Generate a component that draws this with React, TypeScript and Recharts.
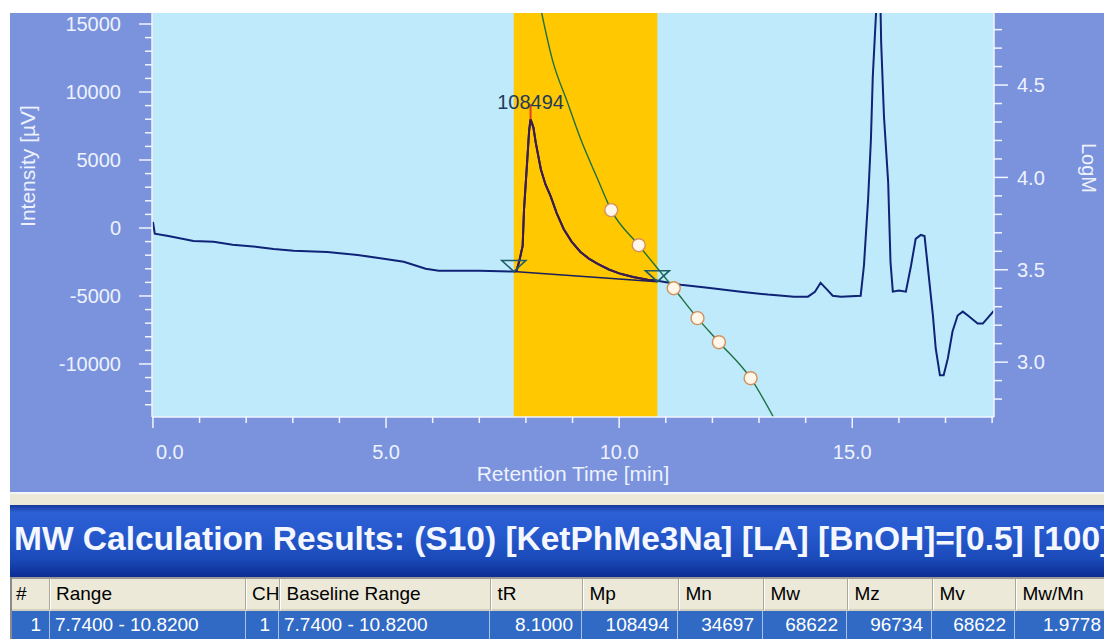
import React from 'react';
import {
  ComposedChart,
  Line,
  Scatter,
  XAxis,
  YAxis,
  ReferenceArea,
  ReferenceLine,
  ReferenceDot,
  CartesianGrid,
} from 'recharts';

// ---- RI detector trace ----
const chromTime = [
  0.0, 0.04, 0.33, 0.87, 1.3, 1.71, 2.24, 2.59, 3.02, 3.74, 4.39, 4.95, 5.38, 5.85, 6.13, 7.0,
  7.74, 7.8, 7.86, 7.93, 7.96, 8.03, 8.07, 8.1, 8.16, 8.21, 8.32, 8.42, 8.53, 8.66, 8.81, 8.98,
  9.17, 9.35, 9.54, 9.78, 10.03, 10.3, 10.61, 10.82, 11.32, 11.9, 12.61, 13.19, 13.75, 14.05,
  14.2, 14.32, 14.45, 14.58, 14.76, 15.18, 15.25, 15.34, 15.4, 15.44, 15.51, 15.55, 15.59, 15.62,
  15.68, 15.77, 15.82, 15.87, 16.0, 16.15, 16.26, 16.36, 16.47, 16.55, 16.64, 16.73, 16.79,
  16.88, 16.96, 17.05, 17.15, 17.26, 17.37, 17.48, 17.69, 17.8, 18.04,
];
const chromIntensity = [
  450, -420, -590, -950, -1020, -1240, -1390, -1540, -1680, -1760, -1980, -2270, -2490, -3000,
  -3150, -3150, -3200, -3150, -2400, -1320, 1390, 5050, 7200, 8000, 7400, 6300, 4320, 3200, 2340,
  1100, -70, -1000, -1760, -2250, -2640, -3050, -3370, -3600, -3810, -3880, -4170, -4390, -4690,
  -4900, -5050, -5050, -4700, -4030, -4500, -4980, -5050, -4980, -2780, 2120, 6510, 11130, 15810,
  19500, 19000, 13620, 8200, 3370, -2500, -4680, -4600, -4680, -2780, -800, -510, -590, -3510,
  -6440, -8860, -10830, -10830, -9590, -7610, -6440, -6150, -6440, -7030, -7030, -6080,
];

// ---- integration range and baseline ----
const rangeStart = 7.74;
const rangeEnd = 10.82;
const baselineTime = [7.74, 10.82];
const baselineIntensity = [-3200, -3950];

// ---- peak top ----
const peakTime = 8.1;
const peakIntensity = 8000;
const peakMarkerTop = 9100;
const peakMp = 108494;

// ---- calibration curve (log M vs retention time) ----
const calibTime = [8.28, 8.57, 8.9, 9.17, 9.54, 9.83, 10.42, 11.17, 11.68, 12.14, 12.82, 13.4];
const calibLogM = [4.96, 4.635, 4.4, 4.21, 3.99, 3.823, 3.633, 3.4, 3.238, 3.108, 2.913, 2.66];
const standardTime = [9.83, 10.42, 11.17, 11.68, 12.14, 12.82];
const standardLogM = [3.823, 3.633, 3.4, 3.238, 3.108, 2.913];

// ---- axis ticks ----
const xMajorTicks = [0, 5, 10, 15];
const xTicks = [0, 1, 2, 3, 4, 5, 6, 7, 8, 9, 10, 11, 12, 13, 14, 15, 16, 17, 18];
const leftMajorTicks = [-10000, -5000, 0, 5000, 10000, 15000];
const leftTicks = [
  -13000, -12000, -11000, -10000, -9000, -8000, -7000, -6000, -5000, -4000, -3000, -2000, -1000,
  0, 1000, 2000, 3000, 4000, 5000, 6000, 7000, 8000, 9000, 10000, 11000, 12000, 13000, 14000, 15000,
];
const rightMajorTicks = [3.0, 3.5, 4.0, 4.5];
const rightTicks = [
  2.8, 2.9, 3.0, 3.1, 3.2, 3.3, 3.4, 3.5, 3.6, 3.7, 3.8, 3.9, 4.0, 4.1, 4.2, 4.3, 4.4, 4.5, 4.6,
  4.7, 4.8,
];

// ---- results table ----
const resultTitle = 'MW Calculation Results: (S10) [KetPhMe3Na] [LA] [BnOH]=[0.5] [100]';
const resultHeaders = ['#', 'Range', 'CH', 'Baseline Range', 'tR', 'Mp', 'Mn', 'Mw', 'Mz', 'Mv', 'Mw/Mn'];
const resultRow = [
  '1', '7.7400 - 10.8200', '1', '7.7400 - 10.8200', '8.1000', String(peakMp), '34697', '68622',
  '96734', '68622', '1.9778',
];

// layout / style
const colWidths = [40, 196, 33, 211, 92, 96, 85, 84, 85, 83, 95];
const colAlign: ('left' | 'right')[] = [
  'right', 'left', 'right', 'left', 'right', 'right', 'right', 'right', 'right', 'right', 'right',
];
const FONT = '"Liberation Sans", Arial, Helvetica, sans-serif';
const PANEL = '#7a93dc';
const PLOT_BG = '#bfeafb';
const AXIS = '#f2f5ff';
const AXIS_TEXT = '#eef2ff';

const chromData = chromTime.map((t, i) => ({ t, v: chromIntensity[i] }));
const peakData = chromData.filter((d) => d.t >= rangeStart && d.t <= rangeEnd);
const baselineData = baselineTime.map((t, i) => ({ t, v: baselineIntensity[i] }));
const calibData = calibTime.map((t, i) => ({ t, logM: calibLogM[i] }));
const standardData = standardTime.map((t, i) => ({ t, logM: standardLogM[i] }));

function XTick(props: any) {
  const { x, y, payload } = props;
  const v = payload.value as number;
  const major = xMajorTicks.includes(v);
  return (
    <g>
      <line x1={x} x2={x} y1={y} y2={y + (major ? 11 : 6)} stroke={AXIS} strokeWidth={1.5} />
      {major && (
        <text
          x={v === 0 ? x + 3 : x}
          y={y + 35}
          dy="0.36em"
          textAnchor={v === 0 ? 'start' : 'middle'}
          fill={AXIS_TEXT}
          fontSize={20}
          fontFamily={FONT}
        >
          {v.toFixed(1)}
        </text>
      )}
    </g>
  );
}

function LeftTick(props: any) {
  const { x, y, payload } = props;
  const v = payload.value as number;
  const major = leftMajorTicks.includes(v);
  return (
    <g>
      <line x1={x} x2={x - (major ? 13 : 7)} y1={y} y2={y} stroke={AXIS} strokeWidth={1.5} />
      {major && (
        <text x={x - 31} y={y} dy="0.36em" textAnchor="end" fill={AXIS_TEXT} fontSize={20} fontFamily={FONT}>
          {v}
        </text>
      )}
    </g>
  );
}

function RightTick(props: any) {
  const { x, y, payload } = props;
  const v = payload.value as number;
  const major = rightMajorTicks.some((m) => Math.abs(m - v) < 1e-6);
  return (
    <g>
      <line x1={x} x2={x + (major ? 14 : 8)} y1={y} y2={y} stroke={AXIS} strokeWidth={1.5} />
      {major && (
        <text x={x + 23} y={y} dy="0.36em" textAnchor="start" fill={AXIS_TEXT} fontSize={20} fontFamily={FONT}>
          {v.toFixed(1)}
        </text>
      )}
    </g>
  );
}

function LeftTitle(p: any) {
  const vb = p.viewBox || { x: 0, y: 0, width: 142, height: 404 };
  const cx = vb.x + 17;
  const cy = vb.y + vb.height / 2 - 49;
  return (
    <text
      x={cx}
      y={cy}
      transform={`rotate(-90, ${cx}, ${cy})`}
      textAnchor="middle"
      dominantBaseline="central"
      fill={AXIS_TEXT}
      fontSize={21}
      fontFamily={FONT}
    >
      Intensity [µV]
    </text>
  );
}

function RightTitle(p: any) {
  const vb = p.viewBox || { x: 984, y: 0, width: 110, height: 404 };
  const cx = vb.x + 95;
  const cy = vb.y + vb.height / 2 - 47;
  return (
    <text
      x={cx}
      y={cy}
      transform={`rotate(90, ${cx}, ${cy})`}
      textAnchor="middle"
      dominantBaseline="central"
      fill={AXIS_TEXT}
      fontSize={20}
      fontFamily={FONT}
    >
      LogM
    </text>
  );
}

function BaselineMarker(props: any) {
  const { cx, cy } = props;
  return (
    <path
      d={`M${cx - 12},${cy - 11} L${cx + 12},${cy - 11} L${cx},${cy} Z`}
      fill="none"
      stroke="#1d5d68"
      strokeWidth={1.6}
    />
  );
}

function StandardMarker(props: any) {
  const { cx, cy } = props;
  return <circle cx={cx} cy={cy} r={6.5} fill="#fff7ea" stroke="#d4915c" strokeWidth={1.4} />;
}

function Chromatogram() {
  return (
    <ComposedChart width={1094} height={479} margin={{ top: 0, right: 0, bottom: 0, left: 0 }}>
      <CartesianGrid xAxisId="t" yAxisId="int" horizontal={false} vertical={false} fill={PLOT_BG} stroke="none" />
      <XAxis
        xAxisId="t"
        dataKey="t"
        type="number"
        domain={[-0.02, 18.04]}
        allowDataOverflow
        ticks={xTicks}
        interval={0}
        tickLine={false}
        tickSize={0}
        tickMargin={0}
        tick={<XTick />}
        axisLine={{ stroke: AXIS, strokeWidth: 1.5 }}
        height={75}
        label={{
          value: 'Retention Time [min]',
          position: 'insideBottom',
          offset: 11,
          fill: AXIS_TEXT,
          fontSize: 21,
          fontFamily: FONT,
        }}
      />
      <YAxis
        yAxisId="int"
        orientation="left"
        type="number"
        width={142}
        domain={[-13900, 15810]}
        allowDataOverflow
        ticks={leftTicks}
        interval={0}
        tickLine={false}
        tickSize={0}
        tickMargin={0}
        tick={<LeftTick />}
        axisLine={{ stroke: AXIS, strokeWidth: 1.5 }}
        label={{ content: (p: any) => <LeftTitle {...p} /> }}
      />
      <YAxis
        yAxisId="logm"
        orientation="right"
        type="number"
        width={110}
        domain={[2.703, 4.89]}
        allowDataOverflow
        ticks={rightTicks}
        interval={0}
        tickLine={false}
        tickSize={0}
        tickMargin={0}
        tick={<RightTick />}
        axisLine={{ stroke: AXIS, strokeWidth: 1.5 }}
        label={{ content: (p: any) => <RightTitle {...p} /> }}
      />
      <ReferenceArea
        xAxisId="t"
        yAxisId="int"
        x1={rangeStart}
        x2={rangeEnd}
        fill="#ffc800"
        fillOpacity={1}
        stroke="none"
      />
      <Line
        xAxisId="t"
        yAxisId="int"
        data={chromData}
        dataKey="v"
        type="linear"
        stroke="#0f2377"
        strokeWidth={2}
        dot={false}
        isAnimationActive={false}
      />
      <Line
        xAxisId="t"
        yAxisId="int"
        data={peakData}
        dataKey="v"
        type="linear"
        stroke="#3f1a4c"
        strokeWidth={2}
        dot={false}
        isAnimationActive={false}
      />
      <Line
        xAxisId="t"
        yAxisId="int"
        data={baselineData}
        dataKey="v"
        type="linear"
        stroke="#1c1f5c"
        strokeWidth={1.6}
        dot={false}
        isAnimationActive={false}
      />
      <Line
        xAxisId="t"
        yAxisId="logm"
        data={calibData}
        dataKey="logM"
        type="monotone"
        stroke="#1e7040"
        strokeWidth={1.4}
        dot={false}
        isAnimationActive={false}
      />
      <Scatter
        xAxisId="t"
        yAxisId="int"
        data={baselineData}
        dataKey="v"
        shape={<BaselineMarker />}
        isAnimationActive={false}
      />
      <Scatter
        xAxisId="t"
        yAxisId="logm"
        data={standardData}
        dataKey="logM"
        shape={<StandardMarker />}
        isAnimationActive={false}
      />
      <ReferenceLine
        xAxisId="t"
        yAxisId="int"
        segment={[
          { x: peakTime, y: peakIntensity },
          { x: peakTime, y: peakMarkerTop },
        ]}
        stroke="#e5401c"
        strokeWidth={2}
      />
      <ReferenceDot
        xAxisId="t"
        yAxisId="int"
        x={peakTime}
        y={peakIntensity}
        r={0}
        fill="none"
        stroke="none"
        label={{
          value: String(peakMp),
          position: 'top',
          offset: 10,
          fill: '#1f3b5b',
          fontSize: 20,
          fontFamily: FONT,
        }}
      />
    </ComposedChart>
  );
}

function ResultsTable() {
  return (
    <div style={{ position: 'absolute', left: 10, top: 577, width: 1094, height: 62, overflow: 'hidden' }}>
      <div style={{ display: 'flex', height: 34, borderTop: '2px solid #9c9a94', boxSizing: 'border-box' }}>
        {resultHeaders.map((h, i) => (
          <div
            key={h}
            style={{
              flex: `0 0 ${colWidths[i]}px`,
              boxSizing: 'border-box',
              background: '#ece9d8',
              borderRight: '1px solid #aca899',
              borderLeft: '1px solid #ffffff',
              borderBottom: '2px solid #d3cfbf',
              paddingLeft: 5,
              lineHeight: '30px',
              fontSize: 19,
              fontFamily: FONT,
              color: '#000',
              whiteSpace: 'nowrap',
            }}
          >
            {h}
          </div>
        ))}
      </div>
      <div style={{ display: 'flex', height: 28 }}>
        {resultRow.map((c, i) => (
          <div
            key={i}
            style={{
              flex: `0 0 ${colWidths[i]}px`,
              boxSizing: 'border-box',
              background: '#316ac5',
              borderRight: '1px solid #a9bfe8',
              textAlign: colAlign[i],
              padding: colAlign[i] === 'left' ? '0 0 0 5px' : '0 8px 0 0',
              lineHeight: '28px',
              fontSize: 19,
              fontFamily: FONT,
              color: '#ffffff',
              whiteSpace: 'nowrap',
            }}
          >
            {c}
          </div>
        ))}
      </div>
      <div style={{ position: 'absolute', left: 0, top: 0, width: 2, height: 62, background: '#8a8a8a' }} />
    </div>
  );
}

export default function App() {
  return (
    <div
      style={{
        position: 'fixed',
        left: 0,
        top: 0,
        width: 1104,
        height: 639,
        overflow: 'hidden',
        background: '#ffffff',
        fontFamily: FONT,
      }}
    >
      <div style={{ position: 'absolute', left: 10, top: 13, width: 1094, height: 479, background: PANEL }}>
        <Chromatogram />
      </div>
      <div style={{ position: 'absolute', left: 10, top: 492, width: 1094, height: 2, background: '#f3f5fa' }} />
      <div style={{ position: 'absolute', left: 10, top: 494, width: 1094, height: 11, background: '#ece9d8' }} />
      <div
        style={{
          position: 'absolute',
          left: 10,
          top: 505,
          width: 1094,
          height: 72,
          overflow: 'hidden',
          background:
            'linear-gradient(to bottom, #16379a 0%, #2c60d4 10%, #2659cd 40%, #1b4ab9 75%, #0c2d93 100%)',
        }}
      >
        <div
          style={{
            position: 'absolute',
            left: 4,
            top: 0,
            lineHeight: '68px',
            fontSize: 33.5,
            fontWeight: 'bold',
            fontFamily: FONT,
            color: '#f4f7ff',
            whiteSpace: 'nowrap',
          }}
        >
          {resultTitle}
        </div>
      </div>
      <ResultsTable />
    </div>
  );
}
